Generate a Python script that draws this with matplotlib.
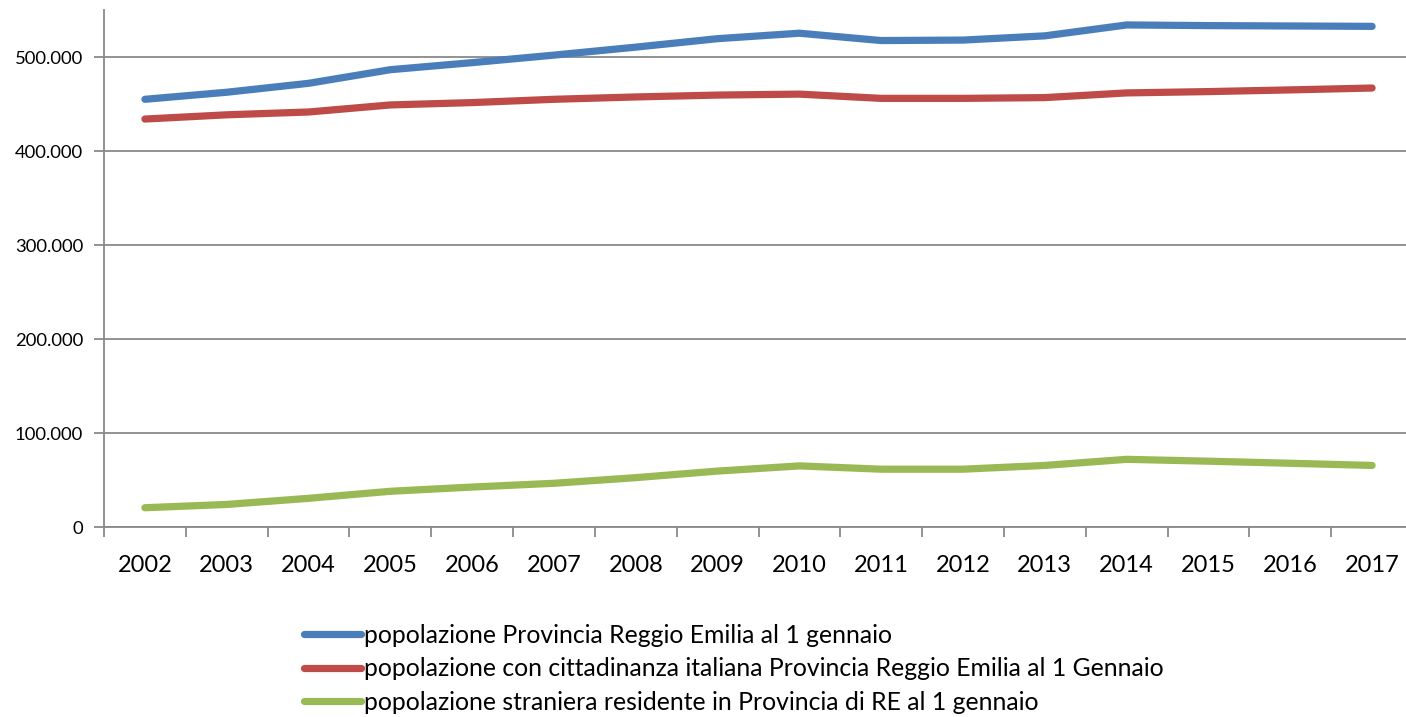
import matplotlib
matplotlib.use("Agg")
import matplotlib.pyplot as plt
from matplotlib.ticker import FuncFormatter, FixedLocator

plt.rcParams['font.family'] = ['Lato', 'DejaVu Sans']

years = ['2002', '2003', '2004', '2005', '2006', '2007', '2008', '2009',
         '2010', '2011', '2012', '2013', '2014', '2015', '2016', '2017']
totale = [455000, 462500, 472000, 486500, 494000, 502000, 510500, 519500,
          525300, 517500, 518000, 522500, 534100, 533400, 533000, 532600]
italiani = [434000, 438500, 441500, 449000, 451500, 455000, 457500, 459500,
            460500, 456000, 456000, 456800, 461800, 463200, 465000, 467000]
stranieri = [20500, 24000, 30500, 38000, 42500, 46500, 52500, 59500,
             65000, 61500, 61500, 65500, 72000, 70000, 67800, 65500]
labels = ['popolazione Provincia Reggio Emilia al 1 gennaio',
          'popolazione con cittadinanza italiana Provincia Reggio Emilia al 1 Gennaio',
          'popolazione straniera residente in Provincia di RE al 1 gennaio']
colors = ['#4A7EBB', '#BE4B48', '#98B954']

W, H = 1406, 717
fig = plt.figure(figsize=(W / 100, H / 100), dpi=100)
ax = fig.add_axes([104 / W, (H - 527) / H, 1309 / W, 517 / H])

x = list(range(len(years)))
for series, lab, c in zip([totale, italiani, stranieri], labels, colors):
    ax.plot(x, series, color=c, lw=5.2, label=lab, solid_capstyle='round',
            solid_joinstyle='round', zorder=3)

ax.set_xlim(-0.5, len(years) - 0.5)
ax.set_ylim(0, 550000)
ax.set_yticks([0, 100000, 200000, 300000, 400000, 500000])
ax.yaxis.set_major_formatter(FuncFormatter(lambda v, p: f"{int(v):,}".replace(",", ".")))
ax.grid(axis='y', color='#898989', lw=1.3, zorder=1)

ax.set_xticks(x)
ax.set_xticklabels(years)
ax.xaxis.set_minor_locator(FixedLocator([i - 0.5 for i in range(len(years) + 1)]))
ax.tick_params(axis='x', which='major', length=0, pad=20, labelsize=17)
ax.tick_params(axis='x', which='minor', length=7, width=1.3, color='#898989')
ax.tick_params(axis='y', which='major', length=7, width=1.3, color='#898989',
               labelsize=13.3, pad=8)

for s in ['top', 'right']:
    ax.spines[s].set_visible(False)
for s in ['left', 'bottom']:
    ax.spines[s].set_color('#898989')
    ax.spines[s].set_linewidth(1.3)

fig.legend(loc='upper left', bbox_to_anchor=(304 / W, 1 - 624 / H), frameon=False,
           fontsize=17.8, handlelength=2.3, handletextpad=0.12, labelspacing=0.42,
           borderaxespad=0, borderpad=0)

fig.savefig('out.png', dpi=100)
